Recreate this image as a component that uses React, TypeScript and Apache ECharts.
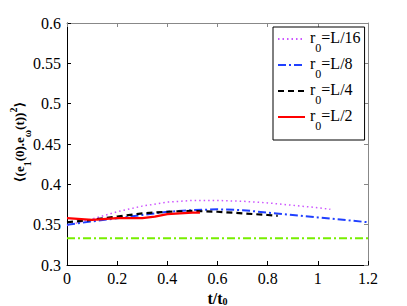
import React, { useEffect, useRef } from "react";
import * as echarts from "echarts";

const xL16 = [0, 0.1, 0.2, 0.3, 0.4, 0.5, 0.6, 0.7, 0.8, 0.9, 1.0, 1.05];
const yL16 = [0.349, 0.357, 0.366, 0.373, 0.378, 0.380, 0.380, 0.379, 0.377, 0.374, 0.371, 0.369];
const xL8 = [0, 0.1, 0.2, 0.3, 0.4, 0.5, 0.6, 0.7, 0.8, 0.9, 1.0, 1.1, 1.2];
const yL8 = [0.350, 0.354, 0.358, 0.362, 0.366, 0.368, 0.369, 0.368, 0.365, 0.362, 0.359, 0.356, 0.353];
const xL4 = [0, 0.1, 0.2, 0.3, 0.4, 0.5, 0.6, 0.7, 0.8, 0.84];
const yL4 = [0.353, 0.356, 0.360, 0.364, 0.366, 0.367, 0.366, 0.364, 0.362, 0.361];
const xL2 = [0, 0.1, 0.2, 0.3, 0.35, 0.4, 0.45, 0.5, 0.53];
const yL2 = [0.358, 0.356, 0.358, 0.358, 0.360, 0.363, 0.364, 0.365, 0.365];
const xRef = [0, 1.2];
const yRef = [0.3333, 0.3333];

const xTicks = ["0", "0.2", "0.4", "0.6", "0.8", "1", "1.2"];
const yTicks = ["0.3", "0.35", "0.4", "0.45", "0.5", "0.55", "0.6"];

const FONT = "'Liberation Serif', 'Times New Roman', 'DejaVu Serif', serif";

const pairs = (xs: number[], ys: number[]) => xs.map((x, i) => [x, ys[i]]);

export default function App() {
  const ref = useRef<HTMLDivElement>(null);
  useEffect(() => {
    if (!ref.current) return;
    const chart = echarts.init(ref.current, null, { renderer: "svg" });
    const tickFmtX = (v: number) => {
      const s = xTicks.find((t) => Math.abs(parseFloat(t) - v) < 1e-6);
      return s ?? "";
    };
    const tickFmtY = (v: number) => {
      const s = yTicks.find((t) => Math.abs(parseFloat(t) - v) < 1e-6);
      return s ?? "";
    };
    const legendRich = {
      m: { fontFamily: FONT, fontSize: 16, lineHeight: 20, verticalAlign: "top", color: "#000" },
      sub: { fontFamily: FONT, fontSize: 12, lineHeight: 12, padding: [13, 0, 4, 0], verticalAlign: "top", color: "#000" },
    };
    const nameRich = {
      b: { fontFamily: FONT, fontSize: 13, fontWeight: "bold", lineHeight: 15, padding: [4, 0, 0, 0], verticalAlign: "top", color: "#000" },
      s: { fontFamily: FONT, fontSize: 10, fontWeight: "bold", lineHeight: 10, padding: [14, 0, 0, 0], verticalAlign: "top", color: "#000" },
      p: { fontFamily: FONT, fontSize: 10, fontWeight: "bold", lineHeight: 10, padding: [0, 0, 0, 0], verticalAlign: "top", color: "#000" },
    };
    const xNameRich = {
      b: { fontFamily: FONT, fontSize: 16, fontWeight: "bold", lineHeight: 16, verticalAlign: "top", color: "#000" },
      s: { fontFamily: FONT, fontSize: 10, fontWeight: "bold", lineHeight: 10, padding: [6, 0, 0, 0], verticalAlign: "top", color: "#000" },
    };
    const line = (name: string, data: number[][], color: string, type: any, width: number, z = 2) => ({
      name,
      type: "line",
      data,
      symbol: "none",
      showSymbol: false,
      z,
      lineStyle: { color, type, width },
      itemStyle: { color },
    });
    chart.setOption({
      animation: false,
      textStyle: { fontFamily: FONT },
      grid: { left: 67, right: 39, top: 23, bottom: 41, containLabel: false, outerBoundsMode: "none" },
      legend: {
        orient: "vertical",
        left: 273,
        top: 27,
        padding: [2, 4, 4, 4],
        itemGap: -3,
        itemWidth: 27,
        itemHeight: 12,
        borderColor: "#000",
        borderWidth: 1,
        backgroundColor: "#fff",
        itemStyle: { opacity: 0 },
        data: ["L16", "L8", "L4", "L2"],
        formatter: (n: string) => `{m|r}{sub|0}{m|=L/${n.slice(1)}}`,
        textStyle: { fontFamily: FONT, rich: legendRich },
      },
      graphic: [
        {
          type: "text",
          x: 16,
          y: 142,
          rotation: Math.PI / 2,
          style: {
            text: "{b|⟨(e}{s|1}{b|(0).e}{s|ω}{b|(t))}{p|2}{b|⟩}",
            rich: nameRich,
            align: "center",
            verticalAlign: "middle",
            fontFamily: FONT,
          },
        },
      ],
      xAxis: [
        {
          type: "value",
          min: 0,
          max: 1.2,
          interval: 0.2,
          position: "bottom",
          splitLine: { show: false },
          axisLine: { onZero: false, lineStyle: { color: "#000", width: 1 } },
          axisTick: { inside: true, length: 4, lineStyle: { color: "#000" } },
          axisLabel: { formatter: tickFmtX, fontFamily: FONT, fontSize: 16, color: "#000", margin: 5 },
          name: "{b|t/t}{s|0}",
          nameLocation: "middle",
          nameGap: 20,
          nameTextStyle: { fontFamily: FONT, rich: xNameRich },
        },
        {
          type: "value",
          min: 0,
          max: 1.2,
          interval: 0.2,
          position: "top",
          splitLine: { show: false },
          axisLine: { onZero: false, lineStyle: { color: "#888", width: 1 } },
          axisTick: { inside: true, length: 4, lineStyle: { color: "#888" } },
          axisLabel: { show: false },
        },
      ],
      yAxis: [
        {
          type: "value",
          min: 0.3,
          max: 0.6,
          interval: 0.05,
          position: "left",
          splitLine: { show: false },
          axisLine: { show: true, onZero: false, lineStyle: { color: "#000", width: 1 } },
          axisTick: { show: true, inside: true, length: 4, lineStyle: { color: "#000" } },
          axisLabel: { formatter: tickFmtY, fontFamily: FONT, fontSize: 16, color: "#000", margin: 6 },
        },
        {
          type: "value",
          min: 0.3,
          max: 0.6,
          interval: 0.05,
          position: "right",
          splitLine: { show: false },
          axisLine: { show: true, onZero: false, lineStyle: { color: "#888", width: 1 } },
          axisTick: { show: true, inside: true, length: 4, lineStyle: { color: "#888" } },
          axisLabel: { show: false },
        },
      ],
      series: [
        line("ref", pairs(xRef, yRef), "#77ee00", [8, 3, 2, 3], 2),
        line("L16", pairs(xL16, yL16), "#cc55ff", [1.5, 3], 1.5),
        line("L8", pairs(xL8, yL8), "#2040ff", [8, 3, 2, 3], 2),
        line("L4", pairs(xL4, yL4), "#000000", [6, 4], 2.2),
        line("L2", pairs(xL2, yL2), "#ff0000", "solid", 2.2, 3),
      ],
    });
    return () => chart.dispose();
  }, []);
  return <div ref={ref} style={{ width: 407, height: 306, position: "absolute", left: 0, top: 0, background: "#fff" }} />;
}
